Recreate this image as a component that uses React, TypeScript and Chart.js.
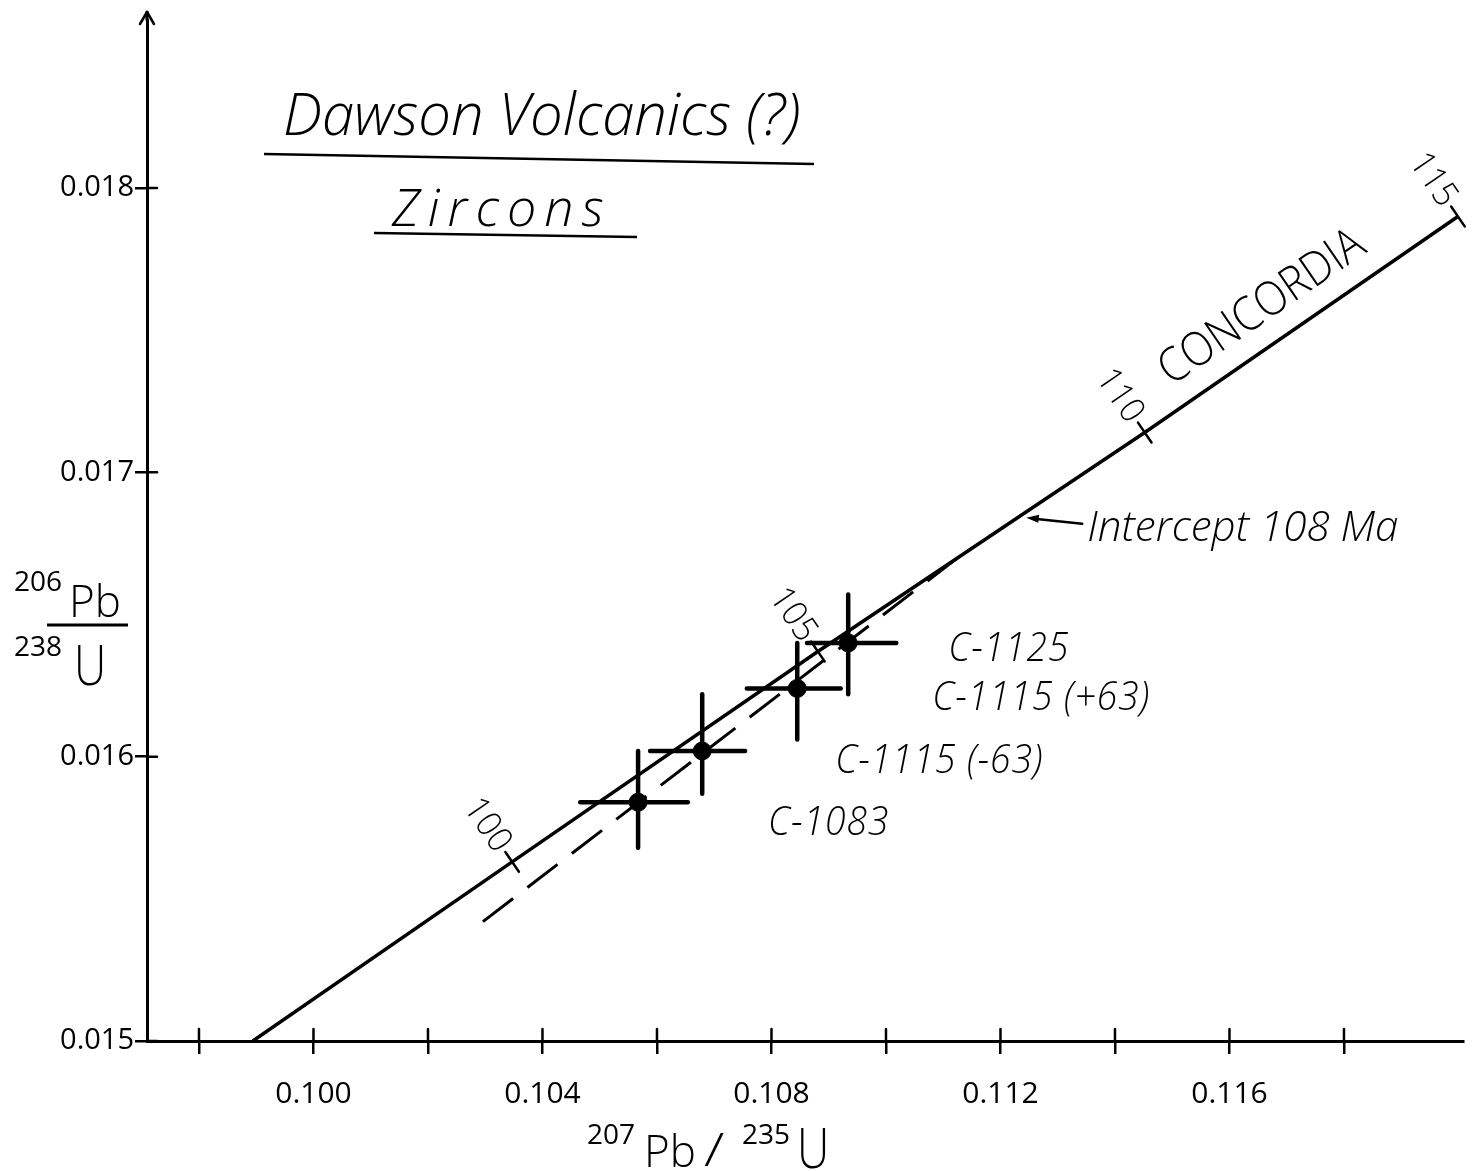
import React, { useEffect, useRef } from 'react';
import { Chart, registerables } from 'chart.js';

Chart.register(...registerables);

// ---- axis ticks ----
const xTickValues = [0.098, 0.1, 0.102, 0.104, 0.106, 0.108, 0.11, 0.112, 0.114, 0.116, 0.118];
const xTickLabels = ['', '0.100', '', '0.104', '', '0.108', '', '0.112', '', '0.116', ''];
const yTickValues = [0.015, 0.016, 0.017, 0.018];
const yTickLabels = ['0.015', '0.016', '0.017', '0.018'];

// ---- zircon analyses ----
const sampleNames = ['C-1083', 'C-1115 (-63)', 'C-1115 (+63)', 'C-1125'];
const sampleX = [0.10567, 0.10679, 0.10845, 0.10934];
const sampleY = [0.01584, 0.01602, 0.01624, 0.0164];
const sampleXLo = [0.10466, 0.10588, 0.10757, 0.10862];
const sampleXHi = [0.10654, 0.10754, 0.10921, 0.11018];
const sampleYLo = [0.01568, 0.01587, 0.01606, 0.01622];
const sampleYHi = [0.01602, 0.01622, 0.0164, 0.01657];

// ---- concordia ----
const concordiaX = [0.09894, 0.10347, 0.10881, 0.11452, 0.11999];
const concordiaY = [0.015, 0.01563, 0.01637, 0.01714, 0.0179];
const ageLabels = ['100', '105', '110', '115'];
const ageX = [0.10347, 0.10881, 0.11452, 0.11999];
const ageY = [0.01563, 0.01637, 0.01714, 0.0179];

// ---- discordia (dashed) ----
const discordiaX = [0.10296, 0.11145];
const discordiaY = [0.01542, 0.01673];

// ---- upper intercept ----
const interceptX = 0.11245;
const interceptY = 0.01684;

const X_MIN = 0.097092;
const X_MAX = 0.120079;
const Y_MIN = 0.015;
const Y_MAX = 0.018591;

const FAM = '"Open Sans", "Noto Sans", "DejaVu Sans", sans-serif';

type TOpts = {
  font: string;
  align?: CanvasTextAlign;
  baseline?: CanvasTextBaseline;
  angle?: number;
  sx?: number;
  spacing?: number;
};

function drawText(ctx: CanvasRenderingContext2D, text: string, x: number, y: number, o: TOpts) {
  ctx.save();
  ctx.translate(x, y);
  if (o.angle) ctx.rotate(o.angle);
  if (o.sx) ctx.scale(o.sx, 1);
  ctx.font = o.font;
  ctx.textAlign = o.align || 'left';
  ctx.textBaseline = o.baseline || 'alphabetic';
  if (o.spacing) (ctx as any).letterSpacing = o.spacing + 'px';
  ctx.fillStyle = '#000';
  ctx.fillText(text, 0, 0);
  ctx.restore();
}

function line(ctx: CanvasRenderingContext2D, x1: number, y1: number, x2: number, y2: number) {
  ctx.beginPath();
  ctx.moveTo(x1, y1);
  ctx.lineTo(x2, y2);
  ctx.stroke();
}

const decorPlugin = {
  id: 'decor',
  afterDraw(chart: any) {
    const ctx: CanvasRenderingContext2D = chart.ctx;
    const xs = chart.scales.x;
    const ys = chart.scales.y;
    const area = chart.chartArea;
    const px = (v: number) => xs.getPixelForValue(v);
    const py = (v: number) => ys.getPixelForValue(v);
    ctx.save();
    ctx.strokeStyle = '#000';
    ctx.fillStyle = '#000';
    ctx.lineCap = 'round';

    // inner halves of axis ticks
    ctx.lineWidth = 2.5;
    xTickValues.forEach((v) => line(ctx, px(v), area.bottom, px(v), area.bottom - 12));
    yTickValues.forEach((v) => line(ctx, area.left, py(v), area.left + 10, py(v)));

    // y-axis arrow
    ctx.lineWidth = 3;
    line(ctx, area.left, area.top, area.left, area.top - 8);
    ctx.lineWidth = 2.5;
    line(ctx, area.left - 7, area.top + 4, area.left, area.top - 8);
    line(ctx, area.left + 7, area.top + 4, area.left, area.top - 8);

    // error crosses
    ctx.lineWidth = 4.5;
    sampleX.forEach((x, i) => {
      line(ctx, px(sampleXLo[i]), py(sampleY[i]), px(sampleXHi[i]), py(sampleY[i]));
      line(ctx, px(x), py(sampleYLo[i]), px(x), py(sampleYHi[i]));
    });

    // concordia direction
    const n0 = concordiaX.length - 1;
    let ux = px(concordiaX[n0]) - px(concordiaX[0]);
    let uy = py(concordiaY[n0]) - py(concordiaY[0]);
    const len = Math.hypot(ux, uy);
    ux /= len;
    uy /= len;
    const nx = uy; // perpendicular toward upper-left
    const ny = -ux;
    const perpAngle = Math.atan2(-ny, -nx);
    const lineAngle = Math.atan2(uy, ux);

    // age ticks + labels
    ctx.lineWidth = 2.5;
    ageX.forEach((ax, i) => {
      const x = px(ax);
      const y = py(ageY[i]);
      line(ctx, x - nx * 12, y - ny * 12, x + nx * 12, y + ny * 12);
      drawText(ctx, ageLabels[i], x + nx * 16, y + ny * 16, {
        font: `300 35px ${FAM}`,
        align: 'right',
        baseline: 'middle',
        angle: perpAngle,
        sx: 0.95,
      });
    });

    // CONCORDIA label
    const ax1 = px(ageX[2]);
    const ay1 = py(ageY[2]);
    const ax2 = px(ageX[3]);
    const ay2 = py(ageY[3]);
    const cx = ax1 + (ax2 - ax1) * 0.44 + nx * 36;
    const cy = ay1 + (ay2 - ay1) * 0.44 + ny * 36;
    drawText(ctx, 'CONCORDIA', cx, cy, {
      font: `300 47px ${FAM}`,
      align: 'center',
      baseline: 'middle',
      angle: lineAngle,
      sx: 0.9,
    });

    // intercept arrow + label
    const tx = px(interceptX);
    const ty = py(interceptY);
    ctx.lineWidth = 2.5;
    line(ctx, tx + 8, ty + 1, tx + 56, ty + 6);
    ctx.beginPath();
    ctx.moveTo(tx, ty);
    ctx.lineTo(tx + 13, ty - 3);
    ctx.lineTo(tx + 12, ty + 5);
    ctx.closePath();
    ctx.fill();
    drawText(ctx, 'Intercept 108 Ma', tx + 61, ty + 23, {
      font: `italic 300 43px ${FAM}`,
      sx: 0.98,
    });

    // sample labels
    const offs = [
      [130, 33],
      [133, 22],
      [135, 22],
      [100, 18],
    ];
    sampleNames.forEach((name, i) => {
      drawText(ctx, name, px(sampleX[i]) + offs[i][0], py(sampleY[i]) + offs[i][1], {
        font: `italic 300 40px ${FAM}`,
        sx: 0.93,
        spacing: 1,
      });
    });

    // title
    drawText(ctx, 'Dawson Volcanics (?)', 283, 135, {
      font: `italic 300 58px ${FAM}`,
    });
    ctx.lineWidth = 2.5;
    ctx.lineCap = 'butt';
    line(ctx, 264, 154, 814, 164);
    drawText(ctx, 'Zircons', 392, 226, {
      font: `italic 300 52px ${FAM}`,
      spacing: 8,
    });
    line(ctx, 374, 233, 637, 237);

    // y-axis title (fraction)
    drawText(ctx, '206', 14, 591, { font: `400 28px ${FAM}` });
    drawText(ctx, 'Pb', 69, 617, { font: `300 44px ${FAM}` });
    ctx.lineWidth = 3;
    line(ctx, 47, 625, 128, 625);
    drawText(ctx, '238', 14, 656, { font: `400 28px ${FAM}` });
    drawText(ctx, 'U', 74, 685, { font: `300 56px ${FAM}`, sx: 0.8 });

    // x-axis title
    drawText(ctx, '207', 587, 1144, { font: `400 28px ${FAM}` });
    drawText(ctx, 'Pb', 644, 1167, { font: `300 44px ${FAM}` });
    drawText(ctx, '/', 704, 1166, { font: `300 46px ${FAM}`, sx: 1.3 });
    drawText(ctx, '235', 742, 1144, { font: `400 28px ${FAM}` });
    drawText(ctx, 'U', 797, 1168, { font: `300 56px ${FAM}`, sx: 0.8 });

    ctx.restore();
  },
};

export default function App() {
  const ref = useRef<HTMLCanvasElement>(null);

  useEffect(() => {
    document.body.style.margin = '0';
    const canvas = ref.current;
    if (!canvas) return;

    const chart = new Chart(canvas, {
      type: 'scatter',
      data: {
        datasets: [
          {
            label: 'Concordia',
            data: concordiaX.map((x, i) => ({ x, y: concordiaY[i] })),
            showLine: true,
            borderColor: '#000',
            backgroundColor: '#000',
            borderWidth: 3.5,
            pointRadius: 0,
            tension: 0,
          },
          {
            label: 'Discordia',
            data: discordiaX.map((x, i) => ({ x, y: discordiaY[i] })),
            showLine: true,
            borderColor: '#000',
            backgroundColor: '#000',
            borderWidth: 3,
            borderDash: [38, 18],
            pointRadius: 0,
          },
          {
            label: 'Zircons',
            data: sampleX.map((x, i) => ({ x, y: sampleY[i] })),
            borderColor: '#000',
            backgroundColor: '#000',
            pointRadius: 9,
            pointHoverRadius: 9,
          },
        ],
      },
      options: {
        responsive: false,
        animation: false,
        devicePixelRatio: 1,
        events: [],
        layout: { padding: { top: 20, right: 11, left: 0, bottom: 0 } },
        plugins: {
          legend: { display: false },
          tooltip: { enabled: false },
        },
        scales: {
          x: {
            type: 'linear',
            min: X_MIN,
            max: X_MAX,
            afterBuildTicks: (s: any) => {
              s.ticks = xTickValues.map((v) => ({ value: v }));
            },
            afterFit: (s: any) => {
              s.height = 130;
            },
            ticks: {
              autoSkip: false,
              maxRotation: 0,
              minRotation: 0,
              padding: 22,
              color: '#000',
              font: { family: FAM, size: 30, weight: '400' as any },
              callback: (_v: any, i: number) => xTickLabels[i],
            },
            grid: {
              drawOnChartArea: false,
              drawTicks: true,
              tickLength: 13,
              color: '#000',
              lineWidth: 2.5,
            },
            border: { display: true, color: '#000', width: 3 },
          },
          y: {
            type: 'linear',
            min: Y_MIN,
            max: Y_MAX,
            afterBuildTicks: (s: any) => {
              s.ticks = yTickValues.map((v) => ({ value: v }));
            },
            afterFit: (s: any) => {
              s.width = 147;
            },
            ticks: {
              padding: 1,
              color: '#000',
              font: { family: FAM, size: 29, weight: '400' as any },
              callback: (_v: any, i: number) => yTickLabels[i],
            },
            grid: {
              drawOnChartArea: false,
              drawTicks: true,
              tickLength: 12,
              color: '#000',
              lineWidth: 2.5,
            },
            border: { display: true, color: '#000', width: 3 },
          },
        },
      },
      plugins: [decorPlugin],
    });

    return () => chart.destroy();
  }, []);

  return (
    <div style={{ width: 1474, height: 1171, background: '#fff' }}>
      <canvas ref={ref} width={1474} height={1171} style={{ display: 'block' }} />
    </div>
  );
}
